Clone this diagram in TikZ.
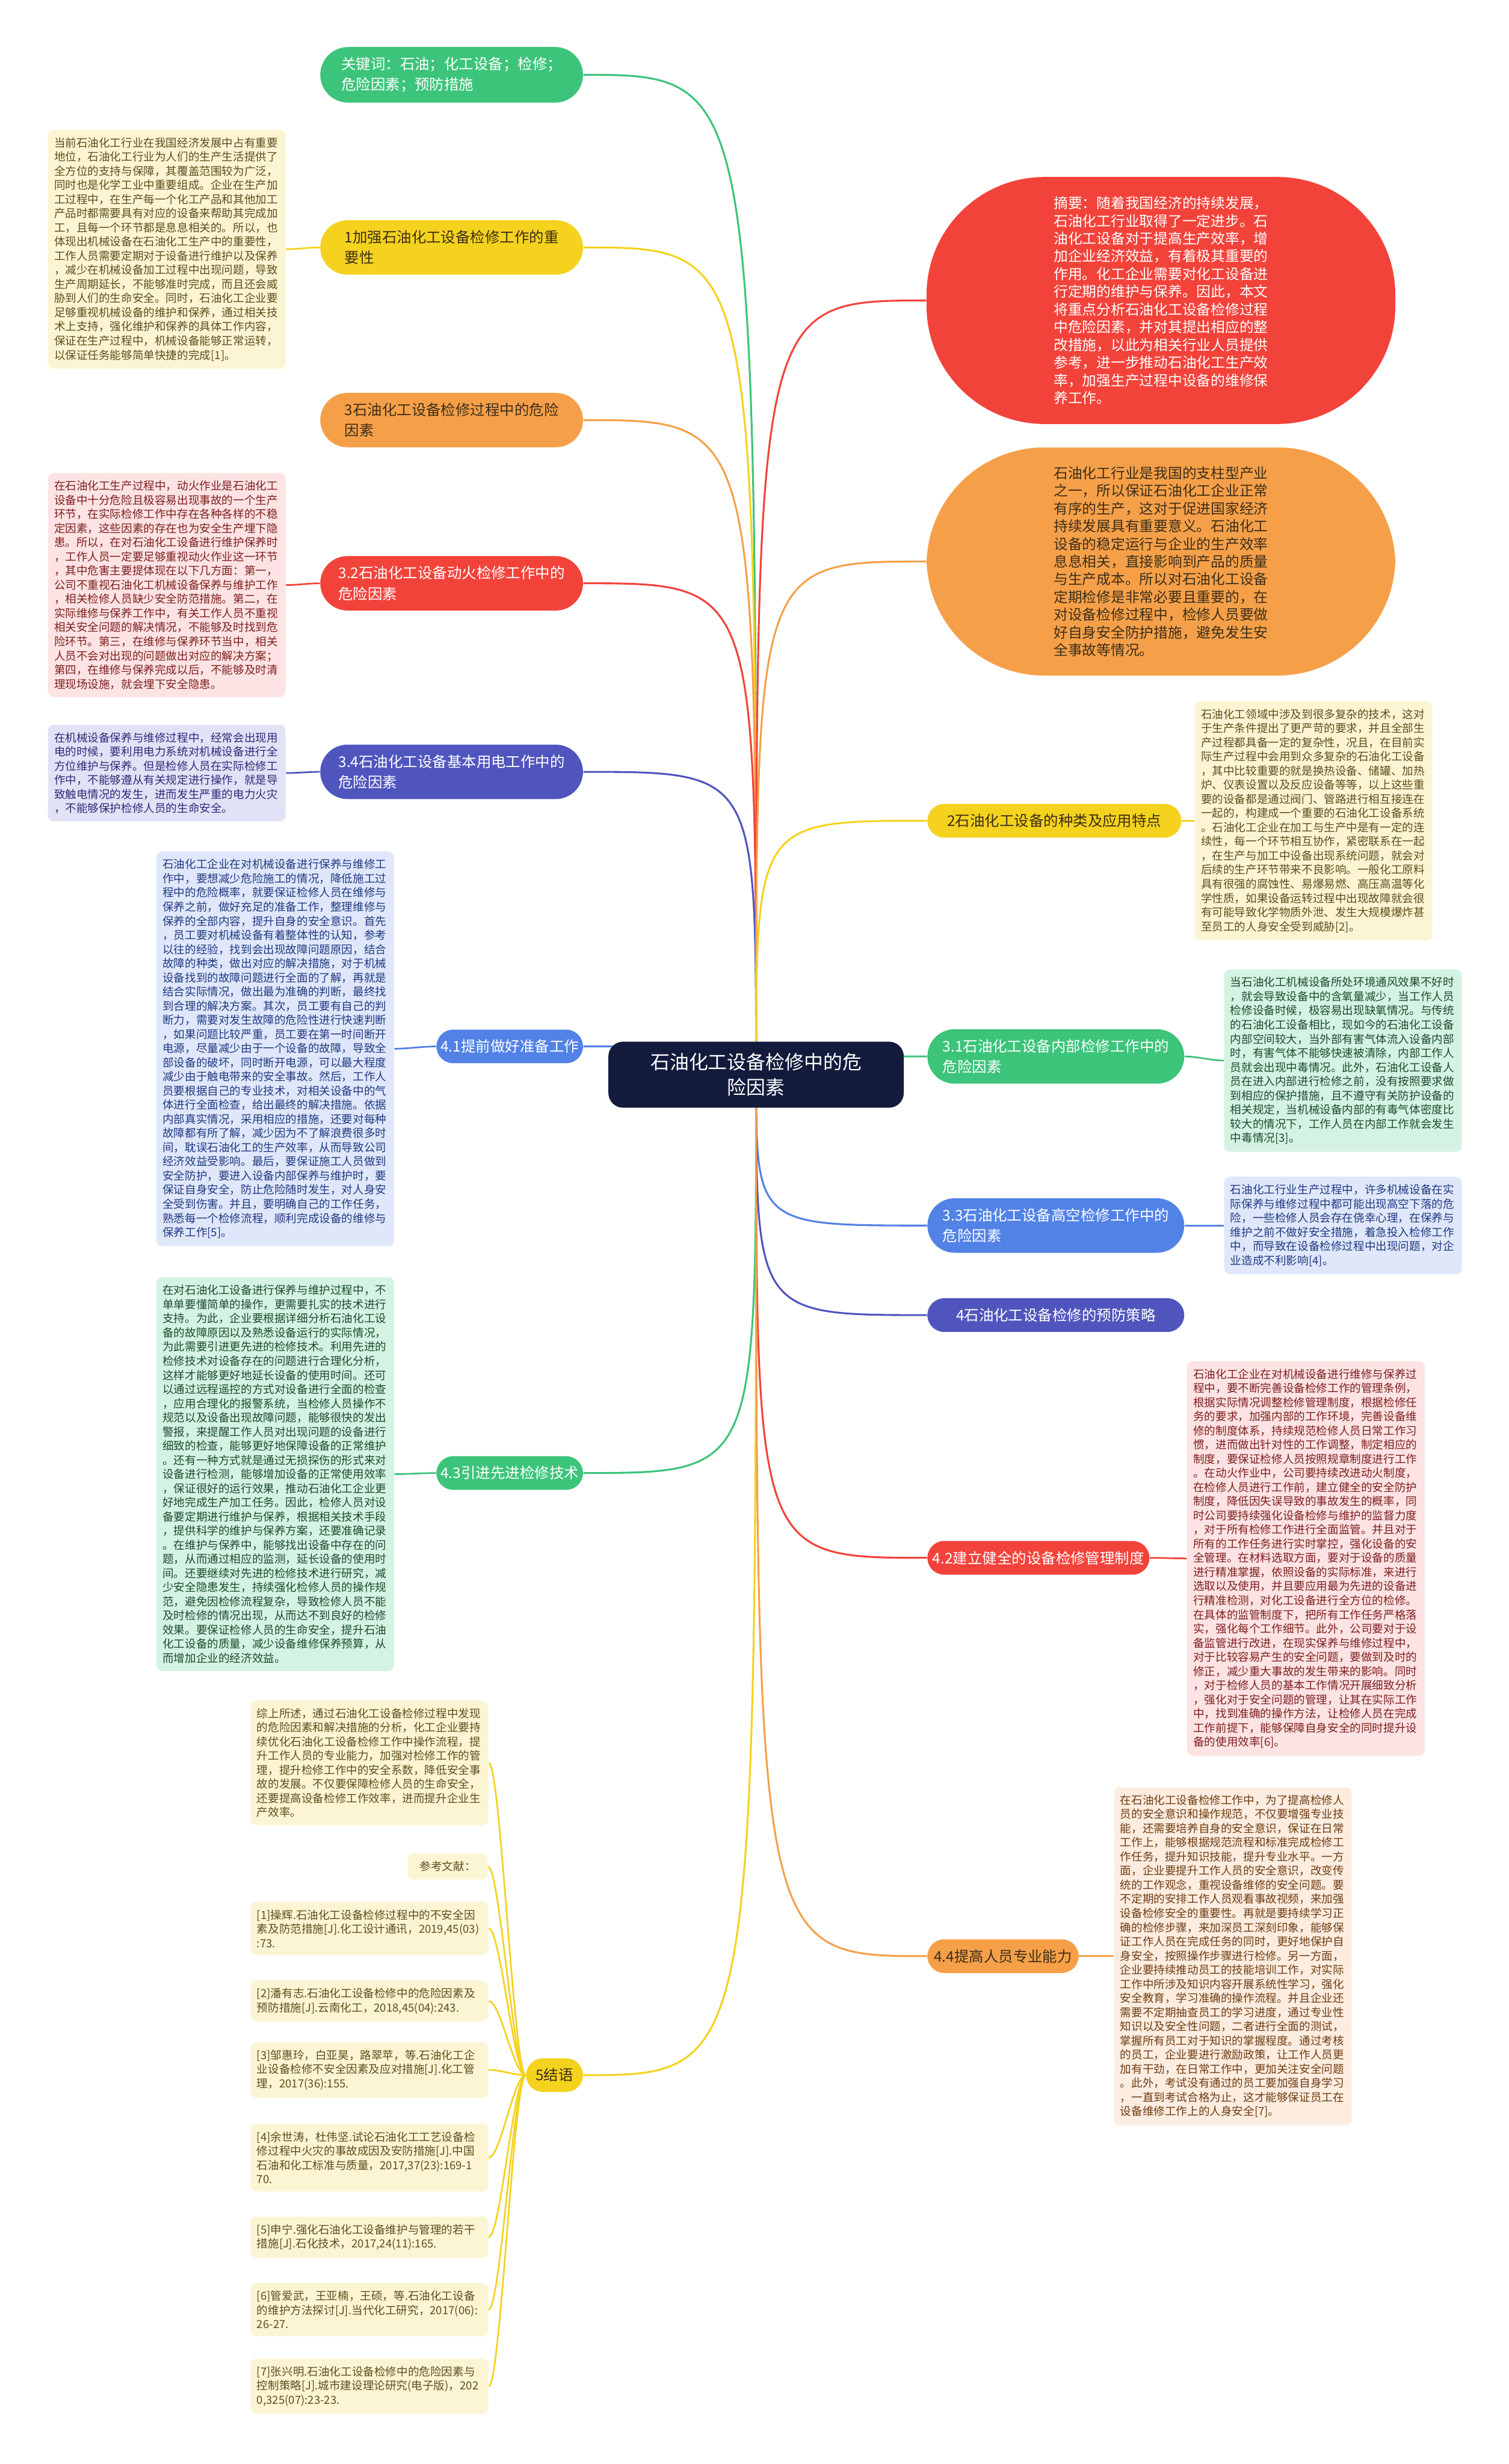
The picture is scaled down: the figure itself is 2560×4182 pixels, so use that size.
\documentclass[tikz,border=0pt]{standalone}
\usepackage{fontspec}
\setmainfont{Noto Sans CJK SC}
\usetikzlibrary{shapes.misc}

\definecolor{hubnavy}{HTML}{131B3D}
\definecolor{brgreen}{HTML}{3CC47A}
\definecolor{bryellow}{HTML}{F4D21E}
\definecolor{brorange}{HTML}{F5A049}
\definecolor{brred}{HTML}{F2433B}
\definecolor{brindigo}{HTML}{5055BE}
\definecolor{brblue}{HTML}{5282E6}
\definecolor{pyellow}{HTML}{FCF5D3}
\definecolor{ppink}{HTML}{FDE3E3}
\definecolor{plilac}{HTML}{E2E2F7}
\definecolor{pblue}{HTML}{E0E7FB}
\definecolor{pmint}{HTML}{D4F3E2}
\definecolor{ppeach}{HTML}{FDECE0}
\definecolor{tolive}{HTML}{5E4E1E}
\definecolor{tred}{HTML}{7D1F1F}
\definecolor{tnavy}{HTML}{2B2B78}
\definecolor{tblue}{HTML}{203A80}
\definecolor{tgreen}{HTML}{1C4B30}
\definecolor{tbrown}{HTML}{6E3D12}
\definecolor{tdark}{HTML}{3E2E18}

\newcommand\notefont{\fontsize{5.4pt}{6.83pt}\selectfont}
\newcommand\pillfont{\fontsize{7.1pt}{10pt}\selectfont}
\newcommand\blobfont{\fontsize{6.9pt}{8.55pt}\selectfont}

\begin{document}
\begin{tikzpicture}[
  x=0.01cm, y=-0.01cm,
  link/.style={line width=0.9pt},
  leaflink/.style={line width=0.8pt},
  hubbox/.style={fill=hubnavy, text=white, rounded corners=0.25cm, minimum width=5.01cm,
    minimum height=1.12cm, align=center, font=\fontsize{9.25pt}{12.2pt}\selectfont},
  pill/.style 2 args={rounded rectangle, fill=#1, text=#2, inner ysep=0.17cm, align=left, font=\pillfont},
  blob/.style 2 args={fill=#1, text=#2, rounded corners=2cm, minimum width=7.95cm, align=left, font=\blobfont},
  note/.style 2 args={fill=#1, text=#2, rounded corners=0.1cm, inner xsep=0.105cm, inner ysep=0.13cm,
    text width=3.82cm, align=left, font=\notefont}
]
\useasboundingbox (0,0) rectangle (2560,4182);
\fill[white] (0,0) rectangle (2560,4182);

\coordinate (hubc) at (1283,1824);

% left branches
\node[pill={brgreen}{white}, minimum width=4.69cm, anchor=east] (keyw) at (990,127)
  {关键词：石油；化工设备；检修；\\危险因素；预防措施};
\node[pill={bryellow}{tdark}, minimum width=4.69cm, anchor=east] (imp1) at (990,420)
  {1加强石油化工设备检修工作的重\\要性};
\node[pill={brorange}{tdark}, minimum width=4.69cm, anchor=east] (risk3) at (990,713)
  {3石油化工设备检修过程中的危险\\因素};
\node[pill={brred}{white}, minimum width=4.69cm, anchor=east] (risk32) at (990,990)
  {3.2石油化工设备动火检修工作中的\\危险因素};
\node[pill={brindigo}{white}, minimum width=4.69cm, anchor=east] (risk34) at (990,1310)
  {3.4石油化工设备基本用电工作中的\\危险因素};
\node[pill={brblue}{white}, minimum width=2.72cm, anchor=east] (prep41) at (990,1776)
  {4.1提前做好准备工作};
\node[pill={brgreen}{white}, minimum width=2.72cm, anchor=east] (tech43) at (990,2500)
  {4.3引进先进检修技术};
\node[pill={bryellow}{tdark}, minimum width=1.2cm, anchor=east] (concl5) at (990,3522)
  {5结语};

% right branches
\node[blob={brred}{white}, minimum height=4.19cm] (abst) at (1970,510)
  {摘要：随着我国经济的持续发展，\\石油化工行业取得了一定进步。石\\油化工设备对于提高生产效率，增\\加企业经济效益，有着极其重要的\\作用。化工企业需要对化工设备进\\行定期的维护与保养。因此，本文\\将重点分析石油化工设备检修过程\\中危险因素，并对其提出相应的整\\改措施，以此为相关行业人员提供\\参考，进一步推动石油化工生产效\\率，加强生产过程中设备的维修保\\养工作。};
\node[blob={brorange}{tdark}, minimum height=3.87cm] (intro) at (1970,953)
  {石油化工行业是我国的支柱型产业\\之一，所以保证石油化工企业正常\\有序的生产，这对于促进国家经济\\持续发展具有重要意义。石油化工\\设备的稳定运行与企业的生产效率\\息息相关，直接影响到产品的质量\\与生产成本。所以对石油化工设备\\定期检修是非常必要且重要的，在\\对设备检修过程中，检修人员要做\\好自身安全防护措施，避免发生安\\全事故等情况。};
\node[pill={bryellow}{tdark}, minimum width=4.54cm, anchor=west] (kind2) at (1573,1393)
  {2石油化工设备的种类及应用特点};
\node[pill={brgreen}{white}, minimum width=4.59cm, anchor=west] (risk31) at (1573,1793)
  {3.1石油化工设备内部检修工作中的\\危险因素};
\node[pill={brblue}{white}, minimum width=4.59cm, anchor=west] (risk33) at (1573,2080)
  {3.3石油化工设备高空检修工作中的\\危险因素};
\node[pill={brindigo}{white}, minimum width=4.59cm, anchor=west] (prev4) at (1573,2232)
  {4石油化工设备检修的预防策略};
\node[pill={brred}{white}, minimum width=4.0cm, anchor=west] (mgmt42) at (1573,2644)
  {4.2建立健全的设备检修管理制度};
\node[pill={brorange}{tdark}, minimum width=2.8cm, anchor=west] (staff44) at (1573,3320)
  {4.4提高人员专业能力};

% notes
\node[note={pyellow}{tolive}] (note1) at (283,423)
  {当前石油化工行业在我国经济发展中占有重要\\地位，石油化工行业为人们的生产生活提供了\\全方位的支持与保障，其覆盖范围较为广泛，\\同时也是化学工业中重要组成。企业在生产加\\工过程中，在生产每一个化工产品和其他加工\\产品时都需要具有对应的设备来帮助其完成加\\工，且每一个环节都是息息相关的。所以，也\\体现出机械设备在石油化工生产中的重要性，\\工作人员需要定期对于设备进行维护以及保养\\，减少在机械设备加工过程中出现问题，导致\\生产周期延长，不能够准时完成，而且还会威\\胁到人们的生命安全。同时，石油化工企业要\\足够重视机械设备的维护和保养，通过相关技\\术上支持，强化维护和保养的具体工作内容，\\保证在生产过程中，机械设备能够正常运转，\\以保证任务能够简单快捷的完成[1]。};
\node[note={ppink}{tred}] (note32) at (283,993)
  {在石油化工生产过程中，动火作业是石油化工\\设备中十分危险且极容易出现事故的一个生产\\环节，在实际检修工作中存在各种各样的不稳\\定因素，这些因素的存在也为安全生产埋下隐\\患。所以，在对石油化工设备进行维护保养时\\，工作人员一定要足够重视动火作业这一环节\\，其中危害主要提体现在以下几方面：第一，\\公司不重视石油化工机械设备保养与维护工作\\，相关检修人员缺少安全防范措施。第二，在\\实际维修与保养工作中，有关工作人员不重视\\相关安全问题的解决情况，不能够及时找到危\\险环节。第三，在维修与保养环节当中，相关\\人员不会对出现的问题做出对应的解决方案；\\第四，在维修与保养完成以后，不能够及时清\\理现场设施，就会埋下安全隐患。};
\node[note={plilac}{tnavy}] (note34) at (283,1312)
  {在机械设备保养与维修过程中，经常会出现用\\电的时候，要利用电力系统对机械设备进行全\\方位维护与保养。但是检修人员在实际检修工\\作中，不能够遵从有关规定进行操作，就是导\\致触电情况的发生，进而发生严重的电力火灾\\，不能够保护检修人员的生命安全。};
\node[note={pblue}{tblue}] (note41) at (467,1780)
  {石油化工企业在对机械设备进行保养与维修工\\作中，要想减少危险施工的情况，降低施工过\\程中的危险概率，就要保证检修人员在维修与\\保养之前，做好充足的准备工作，整理维修与\\保养的全部内容，提升自身的安全意识。首先\\，员工要对机械设备有着整体性的认知，参考\\以往的经验，找到会出现故障问题原因，结合\\故障的种类，做出对应的解决措施，对于机械\\设备找到的故障问题进行全面的了解，再就是\\结合实际情况，做出最为准确的判断，最终找\\到合理的解决方案。其次，员工要有自己的判\\断力，需要对发生故障的危险性进行快速判断\\，如果问题比较严重，员工要在第一时间断开\\电源，尽量减少由于一个设备的故障，导致全\\部设备的破坏，同时断开电源，可以最大程度\\减少由于触电带来的安全事故。然后，工作人\\员要根据自己的专业技术，对相关设备中的气\\体进行全面检查，给出最终的解决措施。依据\\内部真实情况，采用相应的措施，还要对每种\\故障都有所了解，减少因为不了解浪费很多时\\间，耽误石油化工的生产效率，从而导致公司\\经济效益受影响。最后，要保证施工人员做到\\安全防护，要进入设备内部保养与维护时，要\\保证自身安全，防止危险随时发生，对人身安\\全受到伤害。并且，要明确自己的工作任务，\\熟悉每一个检修流程，顺利完成设备的维修与\\保养工作[5]。};
\node[note={pmint}{tgreen}] (note43) at (467,2502)
  {在对石油化工设备进行保养与维护过程中，不\\单单要懂简单的操作，更需要扎实的技术进行\\支持。为此，企业要根据详细分析石油化工设\\备的故障原因以及熟悉设备运行的实际情况，\\为此需要引进更先进的检修技术。利用先进的\\检修技术对设备存在的问题进行合理化分析，\\这样才能够更好地延长设备的使用时间。还可\\以通过远程遥控的方式对设备进行全面的检查\\，应用合理化的报警系统，当检修人员操作不\\规范以及设备出现故障问题，能够很快的发出\\警报，来提醒工作人员对出现问题的设备进行\\细致的检查，能够更好地保障设备的正常维护\\。还有一种方式就是通过无损探伤的形式来对\\设备进行检测，能够增加设备的正常使用效率\\，保证很好的运行效果，推动石油化工企业更\\好地完成生产加工任务。因此，检修人员对设\\备要定期进行维护与保养，根据相关技术手段\\，提供科学的维护与保养方案，还要准确记录\\。在维护与保养中，能够找出设备中存在的问\\题，从而通过相应的监测，延长设备的使用时\\间。还要继续对先进的检修技术进行研究，减\\少安全隐患发生，持续强化检修人员的操作规\\范，避免因检修流程复杂，导致检修人员不能\\及时检修的情况出现，从而达不到良好的检修\\效果。要保证检修人员的生命安全，提升石油\\化工设备的质量，减少设备维修保养预算，从\\而增加企业的经济效益。};
\node[note={pyellow}{tolive}] (concl) at (627,2992)
  {综上所述，通过石油化工设备检修过程中发现\\的危险因素和解决措施的分析，化工企业要持\\续优化石油化工设备检修工作中操作流程，提\\升工作人员的专业能力，加强对检修工作的管\\理，提升检修工作中的安全系数，降低安全事\\故的发展。不仅要保障检修人员的生命安全，\\还要提高设备检修工作效率，进而提升企业生\\产效率。};
\node[note={pyellow}{tolive}, text width=, anchor=east, inner xsep=0.2cm] (refhead) at (828,3168)
  {参考文献：};
\node[note={pyellow}{tolive}] (ref1) at (627,3273)
  {[1]操辉.石油化工设备检修过程中的不安全因\\素及防范措施[J].化工设计通讯，2019,45(03)\\:73.};
\node[note={pyellow}{tolive}] (ref2) at (627,3396)
  {[2]潘有志.石油化工设备检修中的危险因素及\\预防措施[J].云南化工，2018,45(04):243.};
\node[note={pyellow}{tolive}] (ref3) at (627,3513)
  {[3]邹惠玲，白亚昊，路翠苹，等.石油化工企\\业设备检修不安全因素及应对措施[J].化工管\\理，2017(36):155.};
\node[note={pyellow}{tolive}] (ref4) at (627,3662)
  {[4]余世涛，杜伟坚.试论石油化工工艺设备检\\修过程中火灾的事故成因及安防措施[J].中国\\石油和化工标准与质量，2017,37(23):169-1\\70.};
\node[note={pyellow}{tolive}] (ref5) at (627,3797)
  {[5]申宁.强化石油化工设备维护与管理的若干\\措施[J].石化技术，2017,24(11):165.};
\node[note={pyellow}{tolive}] (ref6) at (627,3920)
  {[6]管爱武，王亚楠，王硕，等.石油化工设备\\的维护方法探讨[J].当代化工研究，2017(06):\\26-27.};
\node[note={pyellow}{tolive}] (ref7) at (627,4050)
  {[7]张兴明.石油化工设备检修中的危险因素与\\控制策略[J].城市建设理论研究(电子版)，202\\0,325(07):23-23.};

\node[note={pyellow}{tolive}] (note2) at (2229,1393)
  {石油化工领域中涉及到很多复杂的技术，这对\\于生产条件提出了更严苛的要求，并且全部生\\产过程都具备一定的复杂性，况且，在目前实\\际生产过程中会用到众多复杂的石油化工设备\\，其中比较重要的就是换热设备、储罐、加热\\炉、仪表设置以及反应设备等等，以上这些重\\要的设备都是通过阀门、管路进行相互接连在\\一起的，构建成一个重要的石油化工设备系统\\。石油化工企业在加工与生产中是有一定的连\\续性，每一个环节相互协作，紧密联系在一起\\，在生产与加工中设备出现系统问题，就会对\\后续的生产环节带来不良影响。一般化工原料\\具有很强的腐蚀性、易爆易燃、高压高温等化\\学性质，如果设备运转过程中出现故障就会很\\有可能导致化学物质外泄、发生大规模爆炸甚\\至员工的人身安全受到威胁[2]。};
\node[note={pmint}{tgreen}] (note31) at (2279,1800)
  {当石油化工机械设备所处环境通风效果不好时\\，就会导致设备中的含氧量减少，当工作人员\\检修设备时候，极容易出现缺氧情况。与传统\\的石油化工设备相比，现如今的石油化工设备\\内部空间较大，当外部有害气体流入设备内部\\时，有害气体不能够快速被清除，内部工作人\\员就会出现中毒情况。此外，石油化工设备人\\员在进入内部进行检修之前，没有按照要求做\\到相应的保护措施，且不遵守有关防护设备的\\相关规定，当机械设备内部的有毒气体密度比\\较大的情况下，工作人员在内部工作就会发生\\中毒情况[3]。};
\node[note={pblue}{tblue}] (note33) at (2279,2080)
  {石油化工行业生产过程中，许多机械设备在实\\际保养与维修过程中都可能出现高空下落的危\\险，一些检修人员会存在侥幸心理，在保养与\\维护之前不做好安全措施，着急投入检修工作\\中，而导致在设备检修过程中出现问题，对企\\业造成不利影响[4]。};
\node[note={ppink}{tred}] (note42) at (2216,2645)
  {石油化工企业在对机械设备进行维修与保养过\\程中，要不断完善设备检修工作的管理条例，\\根据实际情况调整检修管理制度，根据检修任\\务的要求，加强内部的工作环境，完善设备维\\修的制度体系，持续规范检修人员日常工作习\\惯，进而做出针对性的工作调整，制定相应的\\制度，要保证检修人员按照规章制度进行工作\\。在动火作业中，公司要持续改进动火制度，\\在检修人员进行工作前，建立健全的安全防护\\制度，降低因失误导致的事故发生的概率，同\\时公司要持续强化设备检修与维护的监督力度\\，对于所有检修工作进行全面监管。并且对于\\所有的工作任务进行实时掌控，强化设备的安\\全管理。在材料选取方面，要对于设备的质量\\进行精准掌握，依照设备的实际标准，来进行\\选取以及使用，并且要应用最为先进的设备进\\行精准检测，对化工设备进行全方位的检修。\\在具体的监管制度下，把所有工作任务严格落\\实，强化每个工作细节。此外，公司要对于设\\备监管进行改进，在现实保养与维修过程中，\\对于比较容易产生的安全问题，要做到及时的\\修正，减少重大事故的发生带来的影响。同时\\，对于检修人员的基本工作情况开展细致分析\\，强化对于安全问题的管理，让其在实际工作\\中，找到准确的操作方法，让检修人员在完成\\工作前提下，能够保障自身安全的同时提升设\\备的使用效率[6]。};
\node[note={ppeach}{tbrown}] (note44) at (2092,3320)
  {在石油化工设备检修工作中，为了提高检修人\\员的安全意识和操作规范，不仅要增强专业技\\能，还需要培养自身的安全意识，保证在日常\\工作上，能够根据规范流程和标准完成检修工\\作任务，提升知识技能，提升专业水平。一方\\面，企业要提升工作人员的安全意识，改变传\\统的工作观念，重视设备维修的安全问题。要\\不定期的安排工作人员观看事故视频，来加强\\设备检修安全的重要性。再就是要持续学习正\\确的检修步骤，来加深员工深刻印象，能够保\\证工作人员在完成任务的同时，更好地保护自\\身安全，按照操作步骤进行检修。另一方面，\\企业要持续推动员工的技能培训工作，对实际\\工作中所涉及知识内容开展系统性学习，强化\\安全教育，学习准确的操作流程。并且企业还\\需要不定期抽查员工的学习进度，通过专业性\\知识以及安全性问题，二者进行全面的测试，\\掌握所有员工对于知识的掌握程度。通过考核\\的员工，企业要进行激励政策，让工作人员更\\加有干劲，在日常工作中，更加关注安全问题\\。此外，考试没有通过的员工要加强自身学习\\，一直到考试合格为止，这才能够保证员工在\\设备维修工作上的人身安全[7]。};

% links from the hub
\foreach \n/\c in {keyw/brgreen, imp1/bryellow, risk3/brorange, risk32/brred,
    risk34/brindigo, prep41/brblue, tech43/brgreen, concl5/bryellow}
  \draw[link, \c] (hubc) .. controls (hubc |- \n.east) .. (\n.east);
\foreach \n/\c in {abst/brred, intro/brorange, kind2/bryellow, risk31/brgreen,
    risk33/brblue, prev4/brindigo, mgmt42/brred, staff44/brorange}
  \draw[link, \c] (hubc) .. controls (hubc |- \n.west) .. (\n.west);

% links to the notes
\foreach \a/\b/\c in {imp1/note1/bryellow, risk32/note32/brred, risk34/note34/brindigo,
    prep41/note41/brblue, tech43/note43/brgreen, concl5/concl/bryellow, concl5/refhead/bryellow,
    concl5/ref1/bryellow, concl5/ref2/bryellow, concl5/ref3/bryellow, concl5/ref4/bryellow,
    concl5/ref5/bryellow, concl5/ref6/bryellow, concl5/ref7/bryellow}
  \draw[leaflink, \c] (\a.west) .. controls +(-20,0) and +(20,0) .. (\b.east);
\foreach \a/\b/\c in {kind2/note2/bryellow, risk31/note31/brgreen, risk33/note33/brblue,
    mgmt42/note42/brred, staff44/note44/brorange}
  \draw[leaflink, \c] (\a.east) .. controls +(20,0) and +(-20,0) .. (\b.west);

\node[hubbox] (hub) at (hubc) {石油化工设备检修中的危\\险因素};
\end{tikzpicture}
\end{document}
